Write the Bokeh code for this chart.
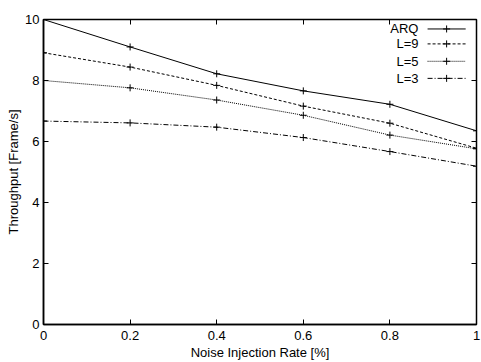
from bokeh.plotting import figure
from bokeh.models import LinearAxis, Range1d, FixedTicker, Label
from bokeh.embed import file_html
from bokeh.resources import INLINE

x = [0, 0.2, 0.4, 0.6, 0.8, 1.0]
arq = [10.0, 9.10, 8.22, 7.66, 7.22, 6.35]
l9 = [8.91, 8.44, 7.84, 7.16, 6.60, 5.78]
l5 = [8.00, 7.76, 7.36, 6.86, 6.21, 5.76]
l3 = [6.67, 6.61, 6.47, 6.13, 5.67, 5.19]
names = ["ARQ", "L=9", "L=5", "L=3"]
x_ticks = [0, 0.2, 0.4, 0.6, 0.8, 1.0]
y_ticks = [0, 2, 4, 6, 8, 10]

FONT = "Liberation Sans"
dashes = ["solid", "3 2", "1 1", "5 2 1 2"]

p = figure(width=481, height=362, output_backend="svg", toolbar_location=None,
           x_range=Range1d(0, 1), y_range=Range1d(0, 10),
           min_border_left=43, min_border_right=5, min_border_top=19, min_border_bottom=38)
p.xgrid.visible = False
p.ygrid.visible = False
p.outline_line_color = "black"
p.outline_line_width = 1.5
p.background_fill_color = "white"
p.border_fill_color = "white"

for ax, ticks in ((p.xaxis[0], x_ticks), (p.yaxis[0], y_ticks)):
    ax.ticker = FixedTicker(ticks=ticks)
    ax.minor_tick_line_color = None
    ax.major_tick_in = 5
    ax.major_tick_out = 0
    ax.axis_line_color = "black"
    ax.axis_line_width = 1.5
    ax.major_tick_line_color = "black"
    ax.major_label_text_font = FONT
    ax.major_label_text_font_size = "13px"
    ax.major_label_text_color = "black"
    ax.axis_label_text_font = FONT
    ax.axis_label_text_font_size = "13px"
    ax.axis_label_text_font_style = "normal"
    ax.axis_label_text_color = "black"

p.xaxis.axis_label = "Noise Injection Rate [%]"
p.yaxis.axis_label = "Throughput [Frame/s]"
p.xaxis.major_label_standoff = 6
p.xaxis.axis_label_standoff = 2
p.yaxis.major_label_standoff = 4
p.yaxis.axis_label_standoff = 1
p.xaxis.major_label_overrides = {0: "0", 1: "1"}
p.yaxis.major_label_overrides = {0: "0", 2: "2", 4: "4", 6: "6", 8: "8", 10: "10"}

for loc, ticks in (("above", x_ticks), ("right", y_ticks)):
    ax = LinearAxis(ticker=FixedTicker(ticks=ticks), major_tick_in=5, major_tick_out=0,
                    minor_tick_line_color=None, major_label_text_font_size="0px",
                    major_label_text_color=None, major_label_standoff=0,
                    axis_line_color=None)
    p.add_layout(ax, loc)

series = [arq, l9, l5, l3]
for vals, d in zip(series, dashes):
    p.line(x, vals, line_color="black", line_width=1, line_dash=d)
    p.scatter(x, vals, marker="cross", size=7, line_color="black", line_width=1)

# legend (text on the left, sample on the right, gnuplot style)
leg_text_x = 0.866
leg_x0, leg_x1 = 0.887, 0.975
leg_y = [9.69, 9.20, 8.63, 8.07]
for name, d, yy in zip(names, dashes, leg_y):
    p.add_layout(Label(x=leg_text_x, y=yy, text=name, text_align="right",
                       text_baseline="middle", text_font=FONT, text_font_size="13px",
                       text_color="black"))
    p.line([leg_x0, leg_x1], [yy, yy], line_color="black", line_width=1, line_dash=d)
    p.scatter([(leg_x0 + leg_x1) / 2], [yy], marker="cross", size=7, line_color="black")

open("out.html", "w").write(file_html(p, INLINE))
